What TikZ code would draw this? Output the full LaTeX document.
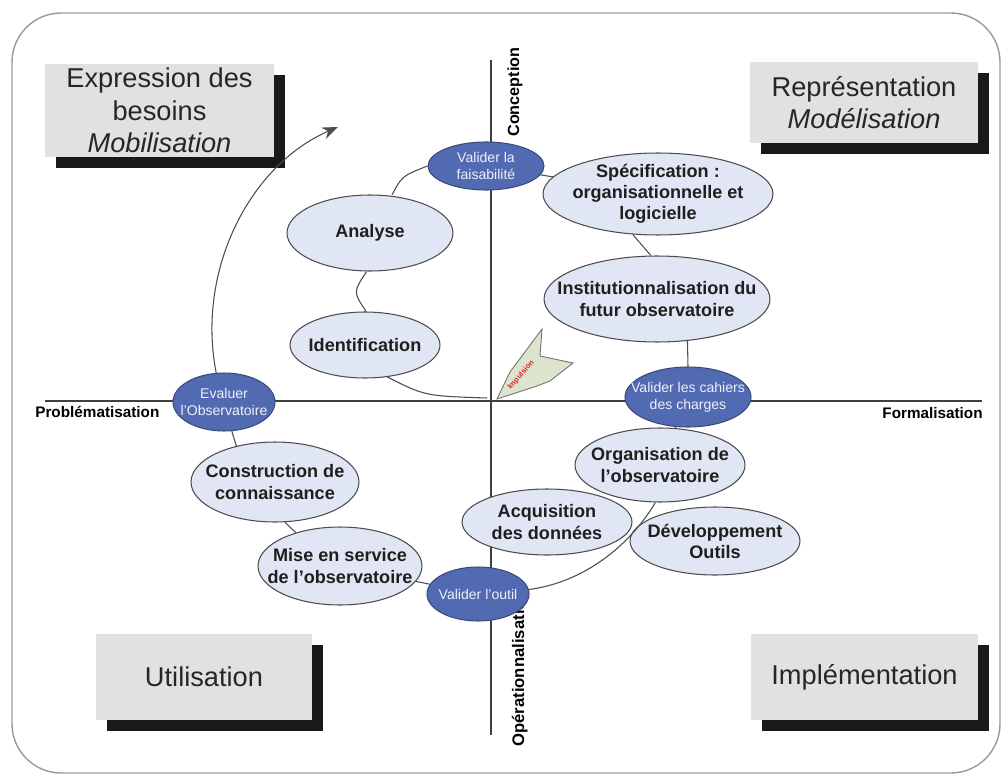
\documentclass[tikz,border=0pt]{standalone}
\usepackage{fontspec}
\setmainfont{Liberation Sans}
\usetikzlibrary{shapes.geometric, shadows, arrows.meta}
\definecolor{jalonbleu}{RGB}{82,106,178}
\definecolor{etapefond}{RGB}{224,230,243}
\definecolor{boitegris}{RGB}{225,225,228}
\definecolor{impvert}{RGB}{220,227,206}
\definecolor{improuge}{RGB}{220,40,40}

\begin{document}
\begin{tikzpicture}[x=0.02cm, y=-0.02cm, >=Stealth,
  quadbox/.style={fill=boitegris, align=center, inner sep=0pt, text=black!85,
    font=\fontsize{15.5}{18.5}\selectfont,
    drop shadow={shadow xshift=6pt, shadow yshift=-6pt, fill=black!90, opacity=1}},
  etape/.style={ellipse, draw=black!70, fill=etapefond, line width=0.6pt, inner sep=0pt},
  etiq/.style={align=center, inner sep=0pt, text=black!88, font=\bfseries\fontsize{10.3}{12}\selectfont},
  jalon/.style={ellipse, draw=jalonbleu!70!black, fill=jalonbleu, line width=0.6pt, inner sep=0pt},
  etiqjalon/.style={align=center, inner sep=0pt, text=white!90!jalonbleu, font=\fontsize{8}{9.6}\selectfont},
  axe/.style={font=\bfseries\fontsize{8.7}{10}\selectfont, inner sep=0pt},
  lien/.style={draw=black!70, line width=0.6pt}]
  \useasboundingbox (0,0) rectangle (1006,780);

  % Frame
  \draw[black!40, line width=0.8pt, rounded corners=28pt] (12,13) rectangle (1000,773);

  % Axes
  \coordinate (hg) at (45,401);
  \coordinate (hd) at (982,401);
  \coordinate (vh) at (491,60);
  \coordinate (vb) at (491,735);
  \draw[black!75, line width=0.8pt] (hg) -- (hd);
  \draw[black!75, line width=0.8pt] (vh) -- (vb);

  \node[axe, anchor=base west] (prob) at (35,417) {Problématisation};
  \node[axe, anchor=base east] (form) at (983,418) {Formalisation};
  \node[axe, anchor=base west, rotate=90, font=\bfseries\fontsize{9.2}{10}\selectfont] (conc) at (519,137) {Conception};
  \node[axe, anchor=base west, rotate=90, font=\bfseries\fontsize{9.5}{10}\selectfont] (oper) at (524,747) {Opérationnalisation};

  % Quadrant boxes
  \node[quadbox, minimum width=4.58cm, minimum height=1.86cm] (expr) at (159.5,110.5)
    {Expression des\\besoins\\\textit{Mobilisation}};
  \node[quadbox, minimum width=4.56cm, minimum height=1.62cm] (repr) at (864,102.5)
    {Représentation\\\textit{Modélisation}};
  \node[quadbox, minimum width=4.32cm, minimum height=1.72cm] (util) at (204,677) {Utilisation};
  \node[quadbox, minimum width=4.54cm, minimum height=1.72cm] (impl) at (864.5,677) {Implémentation};

  % Milestones
  \node[jalon, minimum width=2.32cm, minimum height=0.96cm,
    label={[etiqjalon]center:{Valider la\\faisabilité}}] (faisab) at (486,166) {};
  \node[jalon, minimum width=2.52cm, minimum height=1.2cm,
    label={[etiqjalon]center:{Valider les cahiers\\des charges}}] (cahiers) at (688,397) {};
  \node[jalon, minimum width=2.04cm, minimum height=1.16cm,
    label={[etiqjalon]center:{Evaluer\\l’Observatoire}}] (evaluer) at (224,402) {};
  \node[jalon, minimum width=2.04cm, minimum height=1.08cm,
    label={[etiqjalon]center:{Valider l’outil}}] (outil) at (478,594) {};

  % Steps
  \node[etape, minimum width=3.32cm, minimum height=1.52cm,
    label={[etiq]center:Analyse}] (analyse) at (370,233) {};
  \node[etape, minimum width=3.0cm, minimum height=1.32cm,
    label={[etiq]center:Identification}] (ident) at (365,345) {};
  \node[etape, minimum width=4.6cm, minimum height=1.64cm,
    label={[etiq]center:{Spécification :\\organisationnelle et\\logicielle}}] (specif) at (658,194) {};
  \node[etape, minimum width=4.52cm, minimum height=1.72cm,
    label={[etiq]center:{Institutionnalisation du\\futur observatoire}}] (instit) at (657,299) {};
  \node[etape, minimum width=3.4cm, minimum height=1.48cm,
    label={[etiq]center:{Organisation de\\l’observatoire}}] (organ) at (660,465) {};
  \node[etape, minimum width=3.4cm, minimum height=1.32cm,
    label={[etiq]center:{Acquisition\\des données}}] (acquis) at (547,522) {};
  \node[etape, minimum width=3.4cm, minimum height=1.36cm,
    label={[etiq]center:{Développement\\Outils}}] (devel) at (715,541) {};
  \node[etape, minimum width=3.36cm, minimum height=1.6cm,
    label={[etiq]center:{Construction de\\connaissance}}] (constr) at (275,482) {};
  \node[etape, minimum width=3.28cm, minimum height=1.56cm,
    label={[etiq]center:{Mise en service\\de l’observatoire}}] (miseserv) at (340,566) {};

  % Cycle
  \coordinate (centre) at (487,398);
  \coordinate (fleche) at (338,127);
  \coordinate (haut) at (392,195);
  \draw[lien] (ident.-55) .. controls (425,396) .. (centre);
  \draw[lien] (analyse.-95) .. controls (353,292) .. (ident.88);
  \draw[lien] (haut) .. controls (402,176) .. (faisab.west);
  \draw[lien] (faisab) -- (specif);
  \draw[lien] (specif.-122) -- (instit.98);
  \draw[lien] (instit.-54) -- (cahiers.north);
  \draw[lien] (cahiers) -- (organ);
  \draw[lien] (organ.-97) .. controls (630,545) and (585,582) .. (outil.5);
  \draw[lien] (outil) -- (miseserv);
  \draw[lien] (miseserv.143) -- (constr.-76);
  \draw[lien] (constr.137) -- (evaluer.-75);
  \draw[lien, -{Stealth[length=9pt, width=7pt]}] (evaluer.105) .. controls (196,270) and (250,165) .. (fleche);

  % Impulsion
  \filldraw[fill=impvert, draw=black!55, line width=0.5pt]
    (497,399) -- (510,372) -- (542,329) -- (540,356) -- (573,363) -- (550,381) -- (537,386) -- cycle;
  \node[rotate=48, text=improuge, font=\bfseries\fontsize{4.3}{5}\selectfont, inner sep=0pt]
    (impuls) at (521,375) {Impulsion};
\end{tikzpicture}
\end{document}
